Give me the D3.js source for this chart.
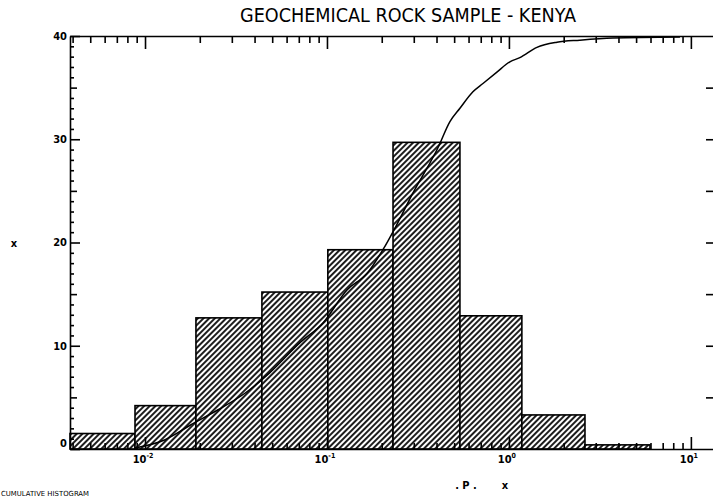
<!DOCTYPE html>
<html>
<head>
<meta charset="utf-8">
<script src="https://cdn.jsdelivr.net/npm/d3@7"></script>
<style>
  html, body { margin: 0; padding: 0; background: #fff; }
  svg { display: block; }
  text { font-family: "Liberation Sans Narrow", "DejaVu Sans Condensed", "Arial Narrow", sans-serif; fill: #000; }
</style>
</head>
<body>
<svg id="chart" width="713" height="498"></svg>
<script>
// ---- data ----
const titleText = "GEOCHEMICAL ROCK SAMPLE - KENYA";
const binEdges = [0.00387, 0.00881, 0.01905, 0.0439, 0.1011, 0.2307, 0.538, 1.178, 2.618, 5.96];
const binValues = [1.5, 4.2, 12.7, 15.2, 19.3, 29.7, 12.9, 3.3, 0.4];
const curveX = [0.0088, 0.0129, 0.0177, 0.0252, 0.0354, 0.0486, 0.0711, 0.0951, 0.1288, 0.166, 0.203, 0.2366, 0.297, 0.408, 0.474, 0.538, 0.634, 0.72, 0.859, 1.012, 1.148, 1.425, 1.835, 2.455, 3.727, 8.71];
const curveY = [0.1, 0.9, 2.3, 3.8, 5.4, 7.4, 10.3, 12.2, 15.4, 17.0, 19.3, 21.4, 24.8, 29.2, 31.7, 33.0, 34.6, 35.4, 36.5, 37.5, 37.9, 38.9, 39.4, 39.6, 39.8, 39.9];
const xMajorTicks = [0.01, 0.1, 1, 10];
const xTickExponents = ["-2", "-1", "0", "1"];
const yMajorTicks = [0, 10, 20, 30, 40];
const yTickLabels = ["0", "10", "20", "30", "40"];
const yRightTicks = [5, 10, 15, 20, 25, 30, 35];
const yAxisLabel = "x";
const xAxisLabelParts = [". P .", "x"];
const footText = "CUMULATIVE HISTOGRAM";

// ---- layout ----
const L = 70, R = 714, T = 36, B = 449;
const svg = d3.select("#chart");
const x = d3.scaleLog().domain([0.00387, 13.4]).range([L, R]);
const y = d3.scaleLinear().domain([0, 40]).range([B, T]);

const defs = svg.append("defs");
const pat = defs.append("pattern").attr("id", "hatch").attr("patternUnits", "userSpaceOnUse")
  .attr("width", 4).attr("height", 4).attr("patternTransform", "rotate(45)");
pat.append("rect").attr("width", 4).attr("height", 4).attr("fill", "#fff");
pat.append("line").attr("x1", 1).attr("y1", 0).attr("x2", 1).attr("y2", 4)
  .attr("stroke", "#111").attr("stroke-width", 1.9);

// bars
const bins = binValues.map((v, i) => ({ x0: binEdges[i], x1: binEdges[i + 1], v }));
svg.append("g").selectAll("rect").data(bins).join("rect")
  .attr("x", d => x(d.x0)).attr("width", d => x(d.x1) - x(d.x0))
  .attr("y", d => y(d.v)).attr("height", d => y(0) - y(d.v))
  .attr("fill", "url(#hatch)").attr("stroke", "#000").attr("stroke-width", 1.6);

// cumulative curve
const pts = curveX.map((cx, i) => [cx, curveY[i]]);
svg.append("path").datum(pts)
  .attr("d", d3.line().x(d => x(d[0])).y(d => y(d[1])).curve(d3.curveMonotoneX))
  .attr("fill", "none").attr("stroke", "#000").attr("stroke-width", 1.5);

// minor ticks on log axis
const minorX = x.ticks().filter(t => !xMajorTicks.some(m => Math.abs(m - t) / m < 1e-6));
const minorY = d3.range(0, 41).filter(v => v % 5 !== 0);
const midY = [5, 15, 25, 35];

function styleAxis(g) {
  g.selectAll("path.domain").attr("stroke", "#000").attr("stroke-width", 1.6);
  g.selectAll(".tick line").attr("stroke", "#000").attr("stroke-width", 1.6);
  g.selectAll(".tick text").remove();
}

// top axis (ticks pointing down)
svg.append("g").attr("transform", `translate(0,${T})`)
  .call(d3.axisBottom(x).tickValues(xMajorTicks).tickSize(13).tickSizeOuter(0).tickFormat(""))
  .call(styleAxis);
svg.append("g").attr("transform", `translate(0,${T})`)
  .call(d3.axisBottom(x).tickValues(minorX).tickSize(7).tickSizeOuter(0).tickFormat(""))
  .call(styleAxis).call(g => g.select("path.domain").remove());

// bottom axis (ticks pointing up)
svg.append("g").attr("transform", `translate(0,${B})`)
  .call(d3.axisTop(x).tickValues(xMajorTicks).tickSize(12).tickSizeOuter(0).tickFormat(""))
  .call(styleAxis);
svg.append("g").attr("transform", `translate(0,${B})`)
  .call(d3.axisTop(x).tickValues(minorX).tickSize(6).tickSizeOuter(0).tickFormat(""))
  .call(styleAxis).call(g => g.select("path.domain").remove());

// left axis (ticks pointing right)
svg.append("g").attr("transform", `translate(${L},0)`)
  .call(d3.axisRight(y).tickValues(yMajorTicks).tickSize(10).tickSizeOuter(0).tickFormat(""))
  .call(styleAxis);
svg.append("g").attr("transform", `translate(${L},0)`)
  .call(d3.axisRight(y).tickValues(midY).tickSize(7).tickSizeOuter(0).tickFormat(""))
  .call(styleAxis).call(g => g.select("path.domain").remove());
svg.append("g").attr("transform", `translate(${L},0)`)
  .call(d3.axisRight(y).tickValues(minorY).tickSize(4).tickSizeOuter(0).tickFormat(""))
  .call(styleAxis).call(g => g.select("path.domain").remove());

// right axis (ticks pointing left)
svg.append("g").attr("transform", `translate(${R - 1},0)`)
  .call(d3.axisLeft(y).tickValues(yRightTicks).tickSize(7).tickSizeOuter(0).tickFormat(""))
  .call(styleAxis).call(g => g.select("path.domain").remove());

// y tick labels
svg.append("g").selectAll("text").data(yMajorTicks).join("text")
  .attr("x", L - 3).attr("y", d => d === 0 ? y(d) - 6 : y(d))
  .attr("dy", "0.35em").attr("text-anchor", "end")
  .attr("font-size", 11).attr("font-weight", "bold")
  .text((d, i) => yTickLabels[i]);

// x tick labels 10^n
const xl = svg.append("g").selectAll("text").data(xMajorTicks).join("text")
  .attr("x", d => x(d) - 2).attr("y", B + 14)
  .attr("text-anchor", "middle").attr("font-size", 11).attr("font-weight", "bold");
xl.append("tspan").text("10");
xl.append("tspan").attr("font-size", 7).attr("dy", -5).text((d, i) => xTickExponents[i]);

// title
svg.append("text").attr("x", 240).attr("y", 22).attr("font-size", 19)
  .attr("textLength", 336).attr("lengthAdjust", "spacingAndGlyphs")
  .text(titleText);

// axis labels
svg.append("text").attr("x", 14).attr("y", 247).attr("text-anchor", "middle")
  .attr("font-size", 11).attr("font-weight", "bold").text(yAxisLabel);
svg.append("text").attr("x", 466).attr("y", 489).attr("text-anchor", "middle")
  .attr("font-size", 11).attr("font-weight", "bold").text(xAxisLabelParts[0]);
svg.append("text").attr("x", 505).attr("y", 489).attr("text-anchor", "middle")
  .attr("font-size", 11).attr("font-weight", "bold").text(xAxisLabelParts[1]);

// footer text at the bottom-left corner
svg.append("text").attr("x", 1).attr("y", 496).attr("font-size", 7)
  .attr("textLength", 88).attr("lengthAdjust", "spacingAndGlyphs").text(footText);
</script>
</body>
</html>
